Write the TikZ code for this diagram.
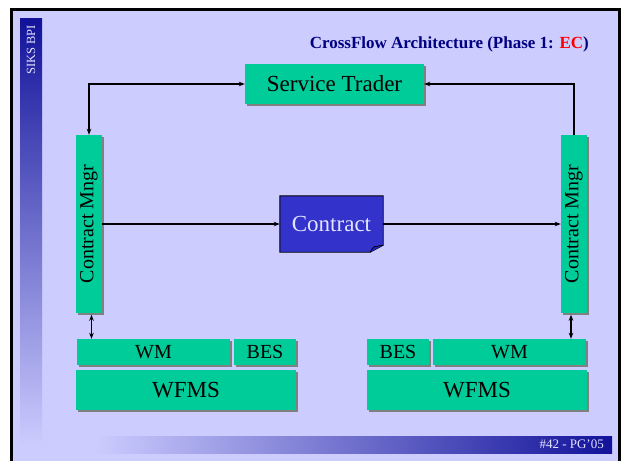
\documentclass[tikz,border=0pt]{standalone}
\usepackage{fontspec}
\setmainfont{Liberation Serif}
\usetikzlibrary{shadows,arrows.meta}
\definecolor{lav}{HTML}{CCCCFF}
\definecolor{navy}{HTML}{12129A}
\definecolor{titlenavy}{HTML}{000080}
\definecolor{boxgreen}{HTML}{00CC99}
\definecolor{cblue}{HTML}{3333CC}
\definecolor{cfold}{HTML}{2222AA}
\definecolor{shadowgray}{HTML}{808080}
\definecolor{paletext}{HTML}{E4E4FF}
\begin{document}
\begin{tikzpicture}[x=1pt,y=-1pt,
  greenbox/.style={draw=none, fill=boxgreen, inner sep=0pt,
    drop shadow={shadow xshift=2pt, shadow yshift=-2pt, fill=shadowgray, opacity=1}},
  conn/.style={line width=1.1pt, -{Stealth[length=6pt,width=4.5pt]}},
  biconn/.style={line width=1.1pt, {Stealth[length=6pt,width=4.5pt]}-{Stealth[length=6pt,width=4.5pt]}},
  bigtext/.style={font=\fontsize{23}{25}\selectfont},
  midtext/.style={font=\fontsize{20}{22}\selectfont},
  ]
\useasboundingbox (0,0) rectangle (621,461);
% slide background
\fill[white] (0,0) rectangle (621,461);
\fill[black] (10,8) rectangle (621,461);
\fill[lav] (13,11) rectangle (618,461);
% decorative bars
\shade[top color=navy, bottom color=lav] (20,18) rectangle (42,445);
\shade[left color=lav, right color=navy] (95,436) rectangle (612,453);
\node[font=\fontsize{12.5}{14}\selectfont, text=paletext, inner sep=0pt] (siks) at (31,50) {\rotatebox{90}{SIKS BPI}};
\node[font=\fontsize{13}{15}\selectfont, text=paletext, anchor=east, inner sep=0pt] (pg) at (604,444) {\#42 - PG'05};
% title
\node[font=\fontsize{17}{19}\selectfont\bfseries, text=titlenavy, anchor=east, inner sep=0pt] (title) at (589,44) {CrossFlow Architecture (Phase 1: \textcolor{red}{EC})};
% boxes
\node[greenbox, bigtext, minimum width=179pt, minimum height=40pt] (ST) at (334.5,84) {Service Trader};
\node[greenbox, midtext, minimum width=26pt, minimum height=178pt] (CML) at (89,224) {\rotatebox{90}{Contract Mngr}};
\node[greenbox, midtext, minimum width=26pt, minimum height=178pt] (CMR) at (574,224) {\rotatebox{90}{Contract Mngr}};
\node[greenbox, midtext, minimum width=153pt, minimum height=26pt] (WML) at (153.5,352) {WM};
\node[greenbox, midtext, minimum width=62pt, minimum height=26pt] (BESL) at (265,352) {BES};
\node[greenbox, bigtext, minimum width=220pt, minimum height=40pt] (WFMSL) at (186,390) {WFMS};
\node[greenbox, midtext, minimum width=62pt, minimum height=26pt] (BESR) at (398,352) {BES};
\node[greenbox, midtext, minimum width=153pt, minimum height=26pt] (WMR) at (509.5,352) {WM};
\node[greenbox, bigtext, minimum width=220pt, minimum height=40pt] (WFMSR) at (477,390) {WFMS};
% contract document
\node[minimum width=103pt, minimum height=56pt, inner sep=0pt] (Contract) at (331.5,224) {};
\filldraw[fill=cblue, draw=black, line width=0.9pt]
  (Contract.north west) -- (Contract.north east) -- ([yshift=7pt]Contract.south east)
  -- ([xshift=-13pt]Contract.south east) -- (Contract.south west) -- cycle;
\filldraw[fill=cfold, draw=black, line width=0.7pt]
  ([xshift=-13pt]Contract.south east) .. controls ([xshift=-11pt,yshift=4pt]Contract.south east) .. ([xshift=-9pt,yshift=5.5pt]Contract.south east)
  -- ([yshift=7pt]Contract.south east);
\node[bigtext, text=paletext] (ctext) at (Contract.center) {Contract};
% connectors
\draw[biconn] (CML.north) |- (ST.west);
\draw[conn] (CMR.north) |- (ST.east);
\draw[conn] (CML.east) -- (Contract.west);
\draw[conn] (Contract.east) -- (CMR.west);
\draw[biconn] ([xshift=2.5pt,yshift=-1.5pt]CML.south) -- ([xshift=2.5pt]CML.south |- WML.north);
\draw[biconn] ([xshift=-3pt,yshift=-1.5pt]CMR.south) -- ([xshift=-3pt]CMR.south |- WMR.north);
\end{tikzpicture}
\end{document}
